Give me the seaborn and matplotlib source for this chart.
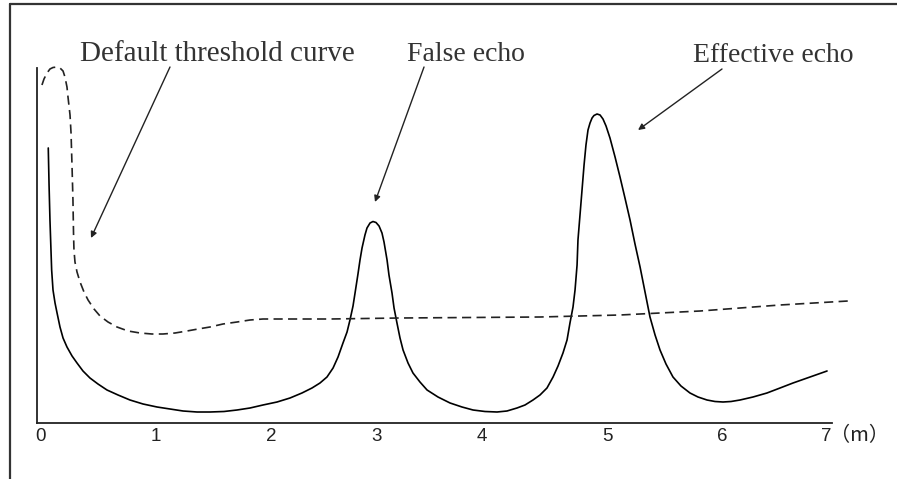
import matplotlib
matplotlib.use('Agg')
import matplotlib.pyplot as plt
from matplotlib.lines import Line2D
import seaborn as sns

# echo signal: range (m) vs amplitude (arbitrary units)
ECHO_X = [0.100, 0.107, 0.115, 0.130, 0.142, 0.160, 0.178, 0.204, 0.231, 0.266,
          0.311, 0.355, 0.408, 0.470, 0.541, 0.621, 0.719, 0.825, 0.941, 1.065,
          1.180, 1.296, 1.420, 1.535, 1.659, 1.775, 1.890, 2.005, 2.130, 2.245,
          2.351, 2.440, 2.511, 2.573, 2.627, 2.671, 2.715, 2.751, 2.777, 2.804,
          2.822, 2.848, 2.866, 2.884, 2.910, 2.928, 2.955, 2.981, 3.008, 3.035,
          3.061, 3.079, 3.106, 3.123, 3.150, 3.168, 3.194, 3.221, 3.248, 3.292,
          3.336, 3.398, 3.461, 3.558, 3.665, 3.771, 3.869, 3.975, 4.082, 4.170,
          4.259, 4.330, 4.401, 4.463, 4.525, 4.579, 4.623, 4.667, 4.703, 4.729,
          4.756, 4.774, 4.792, 4.800, 4.818, 4.836, 4.854, 4.871, 4.889, 4.907,
          4.925, 4.942, 4.969, 4.996, 5.022, 5.049, 5.084, 5.129, 5.173, 5.217,
          5.262, 5.306, 5.351, 5.395, 5.439, 5.484, 5.528, 5.581, 5.643, 5.714,
          5.794, 5.865, 5.945, 6.016, 6.087, 6.158, 6.238, 6.353, 6.477, 6.593,
          6.708, 6.859, 7.010]
ECHO_Y = [275, 238, 203, 153, 133, 120, 110, 96, 85, 76,
          67, 60, 52, 45, 39, 33, 28, 23, 19, 16,
          14, 12, 11, 11, 11.5, 13, 15, 18, 21, 25,
          30, 35, 40, 46, 55, 66, 80, 91, 103, 117,
          130, 149, 163, 175, 188, 195, 200, 201.5, 200.5, 197,
          190, 181, 163, 148, 130, 115, 100, 85, 73, 60,
          50, 41, 33, 26, 20, 16, 13, 11.5, 11, 12,
          15, 18, 23, 28, 35, 46, 57, 70, 83, 100,
          116, 133, 158, 183, 208, 233, 258, 278, 293, 300,
          305, 307.5, 309, 308, 304, 297, 285, 266, 246, 225,
          203, 179, 156, 131, 106, 88, 73, 59, 46, 37,
          30, 26, 23, 21.5, 21, 21.5, 23, 26, 30, 35,
          40, 46, 52]

# default threshold curve (dashed)
THRESH_X = [0.044, 0.062, 0.089, 0.115, 0.142, 0.178, 0.204, 0.231, 0.248, 0.266,
            0.275, 0.293, 0.302, 0.311, 0.319, 0.324, 0.328, 0.337, 0.355, 0.382,
            0.417, 0.453, 0.506, 0.559, 0.630, 0.710, 0.808, 0.914, 1.020, 1.118,
            1.225, 1.331, 1.429, 1.535, 1.650, 1.775, 1.890, 2.005, 2.245, 2.600,
            3.221, 4.463, 5.173, 5.883, 6.593, 7.196]
THRESH_Y = [338, 344, 350, 354, 355.5, 356, 355, 352, 346, 336,
            326, 308, 290, 256, 223, 190, 173, 161, 151, 141,
            131, 123, 114, 107, 101, 96, 92, 90, 89, 89,
            90, 92, 94, 96, 99, 101, 103, 104, 104, 104,
            105, 106, 108, 112, 118, 122]

TICK_LABELS = ['0', '1', '2', '3', '4', '5', '6', '7']
TICK_POS = [0.03, 1.05, 2.08, 3.01, 3.95, 5.06, 6.08, 7.0]

NOTES = ['Default threshold curve', 'False echo', 'Effective echo']


def main():
    sns.set_style('white')
    plt.rcParams['font.family'] = ['Liberation Sans', 'DejaVu Sans']

    W, H = 897, 479
    fig = plt.figure(figsize=(W / 100, H / 100), dpi=100)
    ax = fig.add_axes([37 / W, (H - 423) / H, (832 - 37) / W, (423 - 68) / H])

    sns.lineplot(x=ECHO_X, y=ECHO_Y, ax=ax, sort=False, color='black',
                 linewidth=1.2, clip_on=False)
    sns.lineplot(x=THRESH_X, y=THRESH_Y, ax=ax, sort=False, color='#222222',
                 linewidth=1.2, linestyle=(0, (5.5, 3.2)), clip_on=False)

    ax.set_xlim(0, 7.054)
    ax.set_ylim(0, 355)
    ax.set_yticks([])
    ax.set_xticks(TICK_POS)
    ax.set_xticklabels(TICK_LABELS, fontsize=13.5, color='#222222')
    ax.tick_params(axis='x', length=0, pad=3.5)
    for side in ['top', 'right']:
        ax.spines[side].set_visible(False)
    for side in ['left', 'bottom']:
        ax.spines[side].set_color('#222222')
        ax.spines[side].set_linewidth(1.3)

    # unit label to the right of the last tick
    ax.text(7.035, -2.0, '（m）', ha='left', va='top', fontsize=14.5,
            color='#222222', family=['Noto Sans CJK SC', 'DejaVu Sans'])

    # labels with arrows
    arrow = dict(arrowstyle='-|>', color='#222222', lw=1.0,
                 mutation_scale=9, shrinkA=0, shrinkB=0)
    note_font = dict(family='Liberation Serif', color='#333333',
                     ha='center', va='baseline', clip_on=False)
    ax.annotate('', xy=(0.479, 185), xytext=(1.180, 356), arrowprops=arrow,
                annotation_clip=False)
    ax.annotate('', xy=(2.999, 221), xytext=(3.434, 356), arrowprops=arrow,
                annotation_clip=False)
    ax.annotate('', xy=(5.333, 293), xytext=(6.078, 354), arrowprops=arrow,
                annotation_clip=False)
    ax.text(1.602, 362, NOTES[0], fontsize=21, **note_font)
    ax.text(3.802, 362, NOTES[1], fontsize=20, **note_font)
    ax.text(6.535, 361, NOTES[2], fontsize=20, **note_font)

    # picture frame (top and left edges)
    fig.add_artist(Line2D([10 / W, 10 / W], [0, 1 - 4 / H],
                          transform=fig.transFigure, color='#333333', lw=1.6))
    fig.add_artist(Line2D([10 / W, 1], [1 - 4 / H, 1 - 4 / H],
                          transform=fig.transFigure, color='#333333', lw=1.6))

    fig.savefig('out.png', dpi=100)


if __name__ == '__main__':
    main()
